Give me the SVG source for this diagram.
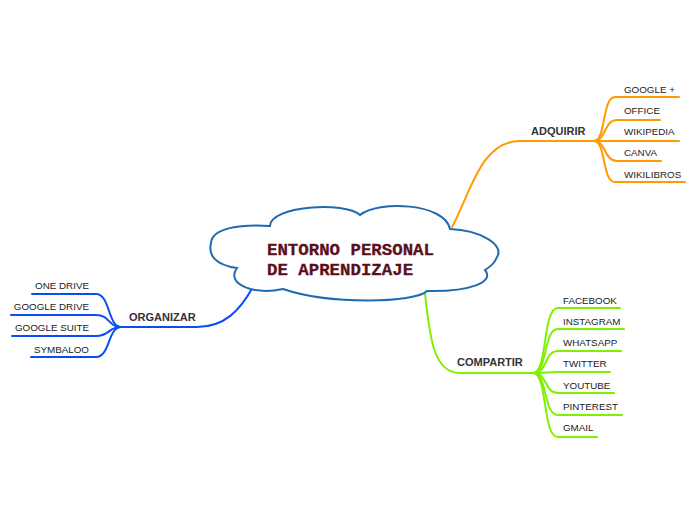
<svg xmlns="http://www.w3.org/2000/svg" width="696" height="520" viewBox="0 0 696 520">
<style>
.c{fill:none;stroke-width:2;stroke-linecap:round}
.o{stroke:#ff9a00}
.g{stroke:#7ff000}
.b{stroke:#0b4cf5}
.lbl{font-family:"Liberation Sans",Arial,sans-serif;font-size:11px;font-weight:bold;fill:#333}
.t{font-family:"Liberation Sans",Arial,sans-serif;font-size:9.8px;fill:#222}
.r{text-anchor:end}
.title{font-family:"Liberation Mono","Courier New",monospace;font-size:17.4px;font-weight:bold;fill:#5a0f1c;stroke:#5a0f1c;stroke-width:0.3}
</style>
<rect width="696" height="520" fill="#fff"/>
<g id="connectors">
<path class="c o" d="M452 227 C470 195 480 141 520 141 L594 141"/>
<path class="c o" d="M594 141 C606 141 602 97 615 97 L679 97"/>
<path class="c o" d="M594 141 C606 141 604 120 617 120 L660 120"/>
<path class="c o" d="M594 141 L679 141"/>
<path class="c o" d="M594 141 C606 141 604 161 617 161 L661 161"/>
<path class="c o" d="M594 141 C606 141 602 182 615 182 L685 182"/>
<path class="c g" d="M425 294 C430 340 434 373 460 373 L533 373"/>
<path class="c g" d="M533 373 C548 373 542 308 558 308 L620 308"/>
<path class="c g" d="M533 373 C548 373 543 329 558 329 L624 329"/>
<path class="c g" d="M533 373 C548 373 544 351 558 351 L621 351"/>
<path class="c g" d="M533 373 C545 373 548 372 558 372 L610 372"/>
<path class="c g" d="M533 373 C548 373 544 393 558 393 L614 393"/>
<path class="c g" d="M533 373 C548 373 543 415 558 415 L622 415"/>
<path class="c g" d="M533 373 C548 373 542 437 558 437 L597 437"/>
<path class="c b" d="M253 287 C240 310 225 327 197 327 L121 327"/>
<path class="c b" d="M121 327 C108 327 110 294 96 294 L32 294"/>
<path class="c b" d="M121 327 C108 327 110 315 96 315 L11 315"/>
<path class="c b" d="M121 327 C108 327 110 336 96 336 L12 336"/>
<path class="c b" d="M121 327 C108 327 110 357 96 357 L31 357"/>
</g>
<g id="center">
<path d="M211 243 C212 228 240 224 270 226 C270 206 345 201 360 215 C378 200 445 203 450 229 C480 230 505 245 497 257 C494 265 488 268 485 270 C495 282 470 292 427 291 C415 303 330 305 283 289 C255 295 225 285 237 268 C215 265 208 255 211 243 Z" fill="#fff" stroke="#1f6bb0" stroke-width="2"/>
<text class="title" x="267" y="255">ENTORNO PERSONAL</text>
<text class="title" x="267" y="275">DE APRENDIZAJE</text>
</g>
<g id="adquirir"><text class="lbl" x="531" y="135">ADQUIRIR</text></g>
<g id="google-plus"><text class="t" x="624" y="93">GOOGLE +</text></g>
<g id="office"><text class="t" x="624" y="114">OFFICE</text></g>
<g id="wikipedia"><text class="t" x="624" y="135">WIKIPEDIA</text></g>
<g id="canva"><text class="t" x="624" y="156">CANVA</text></g>
<g id="wikilibros"><text class="t" x="624" y="178">WIKILIBROS</text></g>
<g id="compartir"><text class="lbl" x="457" y="366">COMPARTIR</text></g>
<g id="facebook"><text class="t" x="563" y="304">FACEBOOK</text></g>
<g id="instagram"><text class="t" x="563" y="325">INSTAGRAM</text></g>
<g id="whatsapp"><text class="t" x="563" y="346">WHATSAPP</text></g>
<g id="twitter"><text class="t" x="563" y="367">TWITTER</text></g>
<g id="youtube"><text class="t" x="563" y="389">YOUTUBE</text></g>
<g id="pinterest"><text class="t" x="563" y="410">PINTEREST</text></g>
<g id="gmail"><text class="t" x="563" y="431">GMAIL</text></g>
<g id="organizar"><text class="lbl" x="129" y="321">ORGANIZAR</text></g>
<g id="one-drive"><text class="t r" x="89" y="289">ONE DRIVE</text></g>
<g id="google-drive"><text class="t r" x="89" y="310">GOOGLE DRIVE</text></g>
<g id="google-suite"><text class="t r" x="89" y="331">GOOGLE SUITE</text></g>
<g id="symbaloo"><text class="t r" x="89" y="353">SYMBALOO</text></g>
</svg>
